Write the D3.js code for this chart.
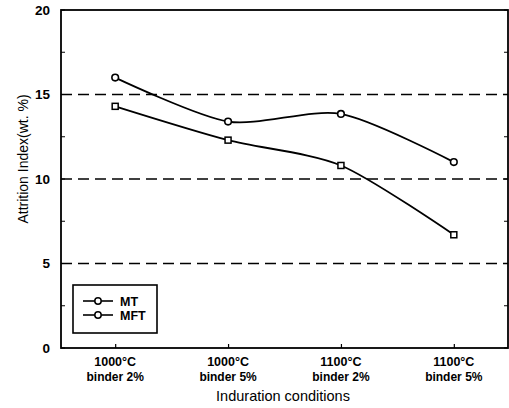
<!DOCTYPE html>
<html>
<head>
<meta charset="utf-8">
<script src="https://cdn.jsdelivr.net/npm/d3@7"></script>
<style>
  body { margin: 0; background: #fff; }
  text { font-family: "Liberation Sans", Arial, sans-serif; fill: #000; }
</style>
</head>
<body>
<div id="chart"></div>
<script>
// data
var categories = ["1000°C|binder 2%", "1000°C|binder 5%", "1100°C|binder 2%", "1100°C|binder 5%"];
var mtValues = [16.0, 13.4, 13.85, 11.0];
var mftValues = [14.3, 12.3, 10.8, 6.7];
var yTicks = [0, 5, 10, 15, 20];
var gridValues = [5, 10, 15];

var width = 509, height = 408;
var margin = { left: 61, right: 1, top: 10, bottom: 60 };
var w = width - margin.left - margin.right;
var h = height - margin.top - margin.bottom;

var svg = d3.select('#chart')
    .append('svg')
    .attr('width', width)
    .attr('height', height);

var g = svg.append('g')
    .attr("transform", "translate(" + margin.left + "," + margin.top + ")");

var x = d3.scalePoint()
    .domain(categories)
    .range([0, w])
    .padding(0.48);
var y = d3.scaleLinear()
    .domain([0, 20])
    .range([h, 0]);

// dashed grid
g.selectAll('.grid')
    .data(gridValues)
    .enter()
    .append('line')
    .attr('x1', 0).attr('x2', w)
    .attr('y1', d => y(d)).attr('y2', d => y(d))
    .attr('stroke', '#000')
    .attr('stroke-width', 1.3)
    .attr('stroke-dasharray', '11,6');

// frame
g.append('rect')
    .attr('width', w).attr('height', h)
    .attr('fill', 'none')
    .attr('stroke', '#000')
    .attr('stroke-width', 1.8);

// left axis, ticks inside
var yAxis = g.append("g")
    .call(d3.axisLeft(y).tickValues(yTicks).tickSize(0).tickPadding(11));
yAxis.select('.domain').remove();
yAxis.selectAll('text')
    .style('font-size', '13.5px')
    .style('font-weight', 'bold');

var minor = d3.range(0, 20.1, 2.5);
g.selectAll('.ytl')
    .data(minor)
    .enter()
    .append('line')
    .attr('x1', 0).attr('x2', 4)
    .attr('y1', d => y(d)).attr('y2', d => y(d))
    .attr('stroke', '#000');
g.selectAll('.ytr')
    .data(minor)
    .enter()
    .append('line')
    .attr('x1', w - 4).attr('x2', w)
    .attr('y1', d => y(d)).attr('y2', d => y(d))
    .attr('stroke', '#000');

// bottom axis
var xAxis = g.append("g")
    .attr("transform", "translate(0," + h + ")")
    .call(d3.axisBottom(x).tickSize(-4).tickFormat(''));
xAxis.select('.domain').remove();
xAxis.selectAll('line').attr('stroke-width', 1.2);

var catLabels = g.selectAll('.cat')
    .data(categories)
    .enter()
    .append('text')
    .attr('x', d => x(d))
    .attr('y', h + 18)
    .attr('text-anchor', 'middle')
    .style('font-size', '12.5px')
    .style('font-weight', 'bold');
catLabels.append('tspan')
    .attr('x', d => x(d))
    .text(d => d.split('|')[0]);
catLabels.append('tspan')
    .attr('x', d => x(d))
    .attr('dy', 15)
    .style('font-size', '12px')
    .text(d => d.split('|')[1]);

svg.append('text')
    .attr('x', 283)
    .attr('y', 401)
    .attr('text-anchor', 'middle')
    .style('font-size', '14.5px')
    .text('Induration conditions');

svg.append('text')
    .attr('transform', 'translate(28,159) rotate(-90)')
    .attr('text-anchor', 'middle')
    .style('font-size', '14px')
    .text('Attrition Index(wt. %)');

// lines
var line = d3.line()
    .x((d, i) => x(categories[i]))
    .y(d => y(d))
    .curve(d3.curveCardinal.tension(0.2));

[mtValues, mftValues].forEach(function (vals) {
    g.append('path')
        .datum(vals)
        .attr('d', line)
        .attr('fill', 'none')
        .attr('stroke', '#000')
        .attr('stroke-width', 1.8);
});

g.selectAll('.mt')
    .data(mtValues)
    .enter()
    .append('circle')
    .attr('cx', (d, i) => x(categories[i]))
    .attr('cy', d => y(d))
    .attr('r', 3.3)
    .attr('fill', '#fff')
    .attr('stroke', '#000')
    .attr('stroke-width', 1.6);

g.selectAll('.mft')
    .data(mftValues)
    .enter()
    .append('rect')
    .attr('x', (d, i) => x(categories[i]) - 3)
    .attr('y', d => y(d) - 3)
    .attr('width', 6).attr('height', 6)
    .attr('fill', '#fff')
    .attr('stroke', '#000')
    .attr('stroke-width', 1.5);

// legend
var legend = svg.append('g');
legend.append('rect')
    .attr('x', 73).attr('y', 285)
    .attr('width', 84).attr('height', 48)
    .attr('fill', '#fff')
    .attr('stroke', '#000')
    .attr('stroke-width', 1.6);
var legendItems = ["MT", "MFT"];
legendItems.forEach(function (name, i) {
    var ly = 301 + i * 14;
    legend.append('line')
        .attr('x1', 83).attr('x2', 113)
        .attr('y1', ly).attr('y2', ly)
        .attr('stroke', '#000').attr('stroke-width', 1.6);
    legend.append('circle')
        .attr('cx', 98).attr('cy', ly).attr('r', 3.2)
        .attr('fill', '#fff').attr('stroke', '#000').attr('stroke-width', 1.5);
    legend.append('text')
        .attr('x', 120).attr('y', ly + 4.5)
        .style('font-size', '12.5px')
        .style('font-weight', 'bold')
        .text(name);
});
</script>
</body>
</html>
